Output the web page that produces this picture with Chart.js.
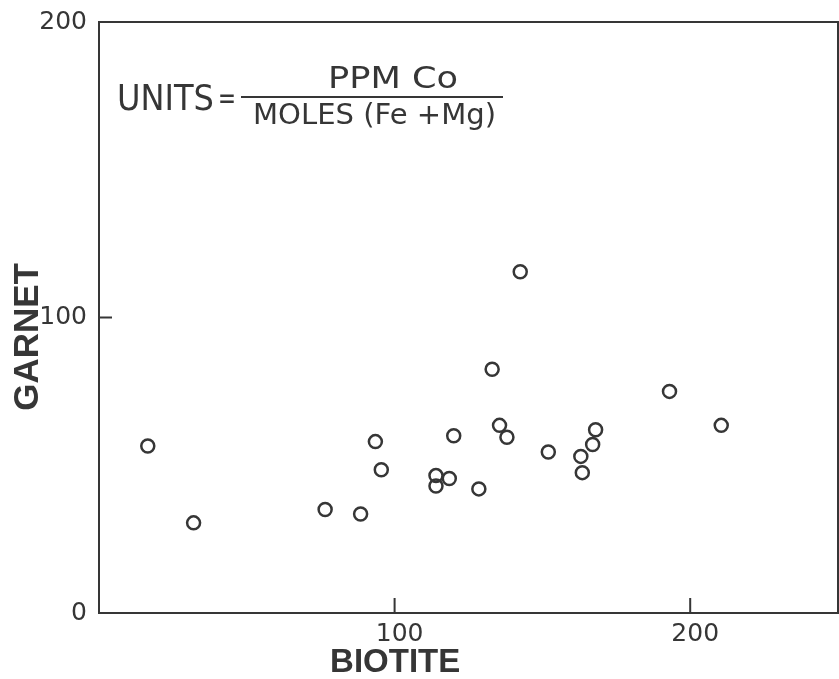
<!DOCTYPE html>
<html>
<head>
<meta charset="utf-8">
<script src="https://cdn.jsdelivr.net/npm/chart.js@4.4.1/dist/chart.umd.min.js"></script>
<style>
html,body{margin:0;padding:0;background:#fff;overflow:hidden;width:839px;height:679px;}
#wrap{width:839px;height:679px;position:relative;overflow:hidden;}
canvas{display:block;}
</style>
</head>
<body>
<div id="wrap"><canvas id="c"></canvas></div>
<script>
// Data
const biotite = [16.5, 32, 76.5, 88.5, 93.5, 95.5, 114, 114, 118.5, 120, 128.5, 133, 135.5, 138, 142.5, 152, 163, 163.5, 167, 168, 193, 210.5];
const garnet  = [56.5, 30.5, 35, 33.5, 58, 48.5, 46.5, 43, 45.5, 60, 42, 82.5, 63.5, 59.5, 115.5, 54.5, 53, 47.5, 57, 62, 75, 63.5];
const xTicks = [100, 200];
const yTicks = [0, 100, 200];
const xTitle = 'BIOTITE';
const yTitle = 'GARNET';
const unitsLabel = 'UNITS';
const numerator = 'PPM Co';
const denominator = 'MOLES (Fe +Mg)';

const INK = '#363636';
const points = biotite.map((x, i) => ({x: x, y: garnet[i]}));

function fitText(ctx, text, x1, x2, baseline, font) {
  ctx.save();
  ctx.font = font;
  ctx.textAlign = 'left';
  ctx.textBaseline = 'alphabetic';
  const w = ctx.measureText(text).width;
  const sx = (x2 - x1) / w;
  ctx.translate(x1, baseline);
  ctx.scale(sx, 1);
  ctx.fillText(text, 0, 0);
  ctx.restore();
}

const framePlugin = {
  id: 'frame',
  afterDraw(chart) {
    const ctx = chart.ctx, a = chart.chartArea;
    const xs = chart.scales.x, ys = chart.scales.y;
    ctx.save();
    ctx.strokeStyle = INK;
    ctx.lineWidth = 2;
    ctx.strokeRect(a.left, a.top, a.right - a.left, a.bottom - a.top);
    // inward tick marks
    ctx.beginPath();
    xTicks.forEach(v => {
      const px = xs.getPixelForValue(v);
      ctx.moveTo(px, a.bottom);
      ctx.lineTo(px, a.bottom - 15);
    });
    yTicks.forEach(v => {
      const py = ys.getPixelForValue(v);
      ctx.moveTo(a.left, py);
      ctx.lineTo(a.left + 13, py);
    });
    ctx.stroke();
    // units annotation
    ctx.fillStyle = INK;
    const fam = '"DejaVu Sans", sans-serif';
    fitText(ctx, unitsLabel, a.left + 18, a.left + 115, 110, '36px ' + fam);
    fitText(ctx, '=', a.left + 119, a.left + 137, 108, '30px ' + fam);
    ctx.beginPath();
    ctx.moveTo(a.left + 142, 97);
    ctx.lineTo(a.left + 404, 97);
    ctx.stroke();
    fitText(ctx, numerator, a.left + 229, a.left + 359, 88, '31px ' + fam);
    fitText(ctx, denominator, a.left + 154, a.left + 397, 124, '29px ' + fam);
    ctx.restore();
  }
};

new Chart(document.getElementById('c'), {
  type: 'scatter',
  data: {
    datasets: [{
      data: points,
      pointStyle: 'circle',
      pointRadius: 6.5,
      pointHoverRadius: 6.5,
      pointBorderWidth: 2.5,
      pointBorderColor: INK,
      pointBackgroundColor: 'rgba(0,0,0,0)',
      showLine: false,
      clip: false
    }]
  },
  options: {
    responsive: true,
    maintainAspectRatio: false,
    animation: false,
    events: [],
    layout: {autoPadding: false, padding: {top: 22, right: 1, left: 0, bottom: 0}},
    plugins: {legend: {display: false}, tooltip: {enabled: false}},
    scales: {
      x: {
        type: 'linear',
        min: 0, max: 250,
        afterFit(s) { s.height = 66; s.paddingLeft = 0; s.paddingRight = 0; },
        afterBuildTicks(s) { s.ticks = xTicks.map(v => ({value: v})); },
        grid: {display: false, drawTicks: false},
        border: {display: false},
        ticks: {color: INK, padding: 6, labelOffset: 5, maxRotation: 0, font: {family: '"DejaVu Sans", sans-serif', size: 25}},
        title: {
          display: true,
          text: xTitle + '                ',
          color: INK,
          padding: {top: 0, bottom: 0},
          font: {family: '"Liberation Sans", Arial, sans-serif', size: 33, weight: 'bold', lineHeight: 1.0}
        }
      },
      y: {
        type: 'linear',
        min: 0, max: 200,
        afterFit(s) { s.width = 99; s.paddingTop = 0; s.paddingBottom = 0; },
        afterBuildTicks(s) { s.ticks = yTicks.map(v => ({value: v})); },
        grid: {display: false, drawTicks: false},
        border: {display: false},
        ticks: {color: INK, padding: 12, font: {family: '"DejaVu Sans", sans-serif', size: 25}},
        title: {
          display: true,
          text: yTitle + '    ',
          color: INK,
          padding: {top: 7, bottom: 0},
          font: {family: '"Liberation Sans", Arial, sans-serif', size: 35, weight: 'bold'}
        }
      }
    }
  },
  plugins: [framePlugin]
});
</script>
</body>
</html>
